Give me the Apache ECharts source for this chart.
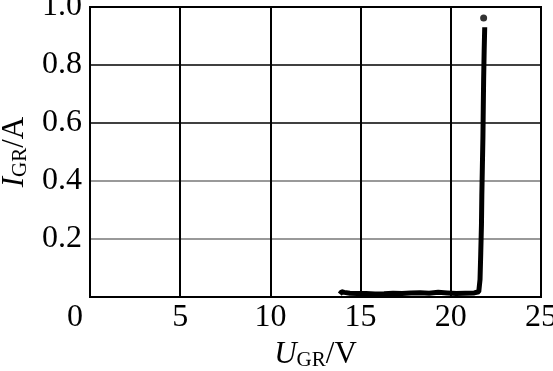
<!DOCTYPE html>
<html><head><meta charset="utf-8">
<script src="https://cdn.jsdelivr.net/npm/echarts@6/dist/echarts.min.js"></script>
<style>html,body{margin:0;padding:0;background:#fff}#c{width:553px;height:371px}</style>
</head><body><div id="c"></div>
<script>
const xTicks = [0, 5, 10, 15, 20, 25];
const yTicks = [0, 0.2, 0.4, 0.6, 0.8, 1.0];
const curveU = [13.85, 13.95, 14.1, 14.4, 14.8, 15.3, 15.8, 16.3, 16.8, 17.3, 17.8, 18.3, 18.8, 19.3, 19.8, 20.3, 20.8, 21.3, 21.55, 21.62, 21.66, 21.7, 21.72, 21.75, 21.78, 21.8, 21.82, 21.85, 21.88];
const curveI = [0.010, 0.018, 0.016, 0.013, 0.012, 0.012, 0.010, 0.011, 0.013, 0.012, 0.014, 0.015, 0.013, 0.016, 0.014, 0.012, 0.013, 0.014, 0.018, 0.06, 0.15, 0.25, 0.35, 0.45, 0.55, 0.65, 0.75, 0.85, 0.93];
const topDot = [[21.82, 0.962]];

const font = '"Liberation Serif", "Times New Roman", serif';
const chart = echarts.init(document.getElementById('c'));
chart.setOption({
  animation: false,
  grid: { left: 90, right: 12, top: 7, bottom: 74, containLabel: false, outerBoundsMode: 'none',
    show: true, borderColor: '#000', borderWidth: 2, backgroundColor: 'transparent' },
  xAxis: {
    type: 'value', min: 0, max: 25, interval: 5,
    axisLine: { show: true, lineStyle: { color: '#000', width: 2 } },
    axisTick: { show: false },
    splitLine: { show: true, lineStyle: { color: '#000', width: 2 } },
    axisLabel: {
      color: '#000', fontFamily: font, fontSize: 32, margin: 5,
      formatter: v => v === 0 ? '{o|0}' : String(v),
      rich: { o: { fontFamily: font, fontSize: 32, color: '#000', padding: [0, 30, 0, 0] } }
    },
    name: '{i|U}{s|GR}{n|/V}', nameLocation: 'middle', nameGap: 40,
    nameTextStyle: {
      rich: {
        i: { fontFamily: font, fontStyle: 'italic', fontSize: 31, color: '#000' },
        s: { fontFamily: font, fontSize: 21, color: '#000', padding: [12, 0, 0, 0] },
        n: { fontFamily: font, fontSize: 31, color: '#000' }
      }
    }
  },
  yAxis: {
    type: 'value', min: 0, max: 1, interval: 0.2,
    axisLine: { show: true, lineStyle: { color: '#000', width: 2 } },
    axisTick: { show: false },
    splitLine: { show: true, lineStyle: { color: ['#000', '#777', '#777', '#000', '#000', '#000'], width: 1.5 } },
    axisLabel: {
      color: '#000', fontFamily: font, fontSize: 32, margin: 8,
      formatter: v => v === 0 ? '' : v.toFixed(1)
    },
    name: '{i|I}{s|GR}{n|/A}', nameLocation: 'middle', nameGap: 56, nameRotate: 90,
    nameTextStyle: {
      rich: {
        i: { fontFamily: font, fontStyle: 'italic', fontSize: 31, color: '#000' },
        s: { fontFamily: font, fontSize: 21, color: '#000', padding: [12, 0, 0, 0] },
        n: { fontFamily: font, fontSize: 31, color: '#000' }
      }
    }
  },
  series: [
    { type: 'line', data: curveU.map((u, k) => [u, curveI[k]]), symbol: 'none',
      lineStyle: { color: '#000', width: 5 } },
    { type: 'scatter', data: topDot, symbolSize: 7, itemStyle: { color: '#000' } }
  ]
});
</script></body></html>
